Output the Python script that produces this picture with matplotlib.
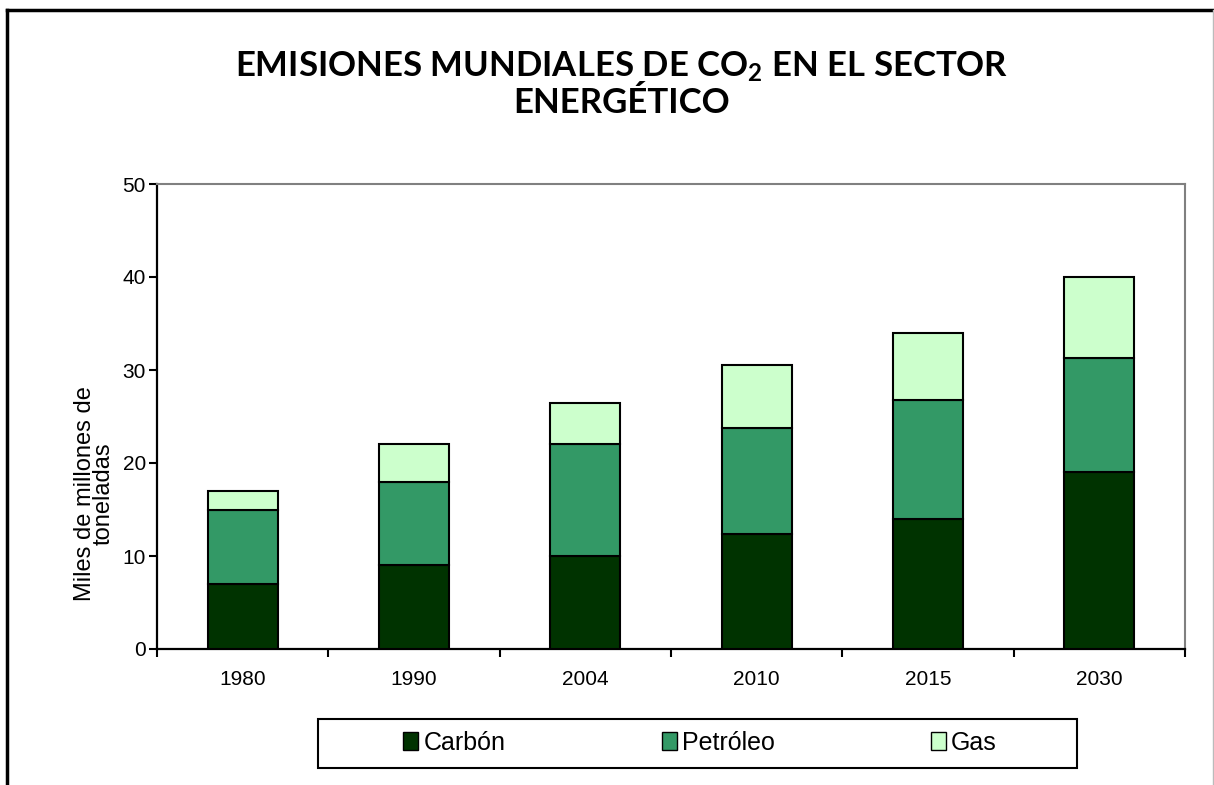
import numpy as np
import matplotlib
matplotlib.use('Agg')
from matplotlib import pyplot as plt
from matplotlib.lines import Line2D
from matplotlib.patches import Patch, Rectangle

years = ['1980', '1990', '2004', '2010', '2015', '2030']
carbon = [7, 9, 10, 12.4, 14, 19]
petroleo = [8, 9, 12, 11.4, 12.8, 12.3]
gas = [2, 4, 4.4, 6.7, 7.2, 8.7]

series_names = ['Carbón', 'Petróleo', 'Gas']
series_colors = ['#003300', '#339966', '#CCFFCC']

W, H = 1214, 785
fig = plt.figure(figsize=(W / 100, H / 100), dpi=100)
ax = fig.add_axes([157 / W, 1 - 649 / H, (1185 - 157) / W, (649 - 184) / H])

x = np.arange(len(years))
bottom = np.zeros(len(years))
for vals, name, col in zip([carbon, petroleo, gas], series_names, series_colors):
    ax.bar(x, vals, width=0.41, bottom=bottom, color=col, edgecolor='black',
           linewidth=1.5, label=name, zorder=3)
    bottom = bottom + np.array(vals)

ax.set_xlim(-0.5, len(years) - 0.5)
ax.set_ylim(0, 50)
ax.set_yticks(np.arange(0, 51, 10))
ax.set_xticks(np.arange(-0.5, len(years), 1))
ax.set_xticklabels([])
ax.set_xticks(x, minor=True)
ax.set_xticklabels(years, minor=True, fontsize=15, family='Liberation Sans')
ax.tick_params(axis='x', which='minor', length=0, pad=15)
ax.tick_params(axis='x', which='major', direction='out', length=6, width=1.5)
ax.tick_params(axis='y', direction='out', length=6, width=1.5, labelsize=15, pad=2)
for lab in ax.get_yticklabels():
    lab.set_family('Liberation Sans')

for s in ['left', 'bottom']:
    ax.spines[s].set_color('black')
    ax.spines[s].set_linewidth(1.6)
for s in ['top', 'right']:
    ax.spines[s].set_color('#808080')
    ax.spines[s].set_linewidth(1.5)

ax.set_ylabel('Miles de millones de\ntoneladas', fontsize=17,
              family='Liberation Sans', linespacing=0.8)
ax.yaxis.set_label_coords(-0.0415, (649 - 494) / (649 - 184))

plt.rcParams['mathtext.default'] = 'regular'
fig.text(622 / W, 1 - 84 / H,
         'EMISIONES MUNDIALES DE CO$_2$ EN EL SECTOR\nENERGÉTICO',
         ha='center', va='center', fontsize=25, fontweight='bold',
         family='Lato', linespacing=1.12)

# legend box drawn separately, entries without frame
fig.add_artist(Rectangle((318 / W, 1 - 768 / H), (1077 - 318) / W, (768 - 719) / H,
                         transform=fig.transFigure, facecolor='white',
                         edgecolor='black', lw=1.5))
handles = [Patch(facecolor=c, edgecolor='black', linewidth=1) for c in series_colors]
leg = fig.legend(handles, series_names, loc='center',
                 bbox_to_anchor=(700 / W, 1 - 743 / H),
                 ncol=3, frameon=False,
                 prop={'family': 'Liberation Sans', 'size': 18},
                 handlelength=0.6, handleheight=0.75, handletextpad=0.2,
                 columnspacing=6.25, borderpad=0.3)

# outer frame
fig.add_artist(Line2D([7 / W, 7 / W], [0, 1 - 10 / H], color='black', lw=2.5,
                      transform=fig.transFigure))
fig.add_artist(Line2D([7 / W, 1], [1 - 10 / H, 1 - 10 / H], color='black', lw=2.5,
                      transform=fig.transFigure))
fig.add_artist(Line2D([1212.5 / W, 1212.5 / W], [0, 1 - 10 / H], color='#BBBBBB', lw=1,
                      transform=fig.transFigure))

fig.savefig('out.png', dpi=100)
